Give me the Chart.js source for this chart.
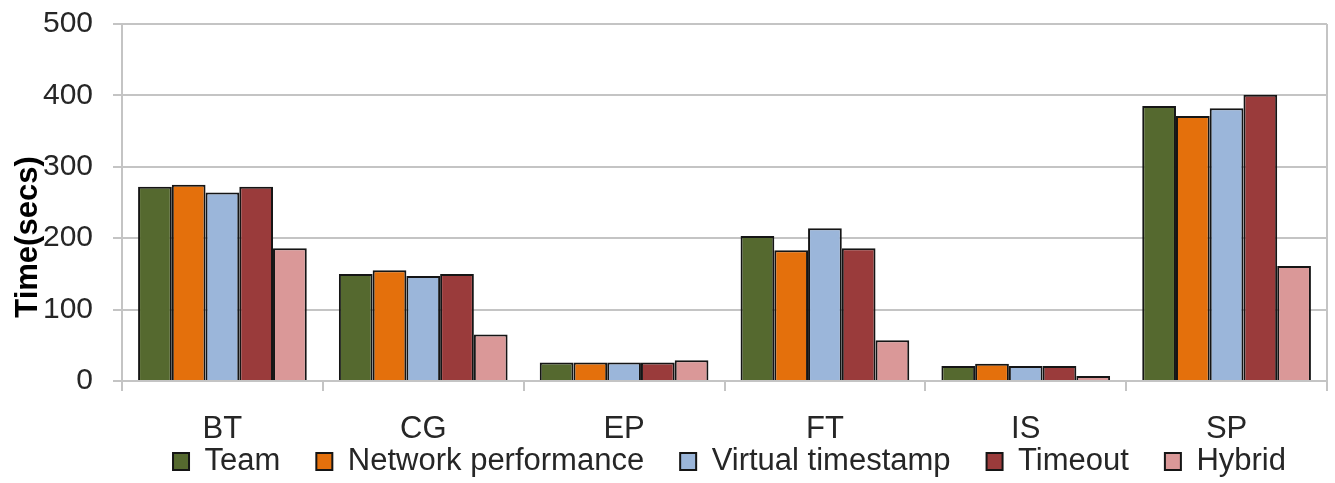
<!DOCTYPE html>
<html>
<head>
<meta charset="utf-8">
<script src="https://cdn.jsdelivr.net/npm/chart.js@4.4.1/dist/chart.umd.min.js"></script>
<style>
  html, body { margin: 0; padding: 0; background: #ffffff; }
  #wrap { width: 1335px; height: 483px; position: relative; }
</style>
</head>
<body>
<div id="wrap"><canvas id="chart"></canvas></div>
<script>
// NAS benchmark runtimes per detection scheme
const benchmarks = ['BT', 'CG', 'EP', 'FT', 'IS', 'SP'];
const team       = [272, 150, 26, 203, 21, 385];
const netPerf    = [275, 155, 26, 183, 24, 371];
const virtualTs  = [264, 147, 26, 214, 21, 382];
const timeout    = [272, 150, 26, 186, 21, 401];
const hybrid     = [186,  65, 29,  57,  7, 161];
const yTicks     = [0, 100, 200, 300, 400, 500];

const seriesNames  = ['Team', 'Network performance', 'Virtual timestamp', 'Timeout', 'Hybrid'];
const seriesValues = [team, netPerf, virtualTs, timeout, hybrid];
const seriesColors = ['#55692f', '#e4700c', '#9bb6da', '#9a3b3b', '#da9898'];

const gridGray = '#c4c4c4';
const textColor = '#262626';
const baseFont = 'Arial, "Liberation Sans", sans-serif';

// Rotated y-axis caption drawn over the tick label column, plus the right frame edge
const frameAndCaption = {
  id: 'frameAndCaption',
  afterDraw(chart) {
    const { ctx, chartArea } = chart;
    ctx.save();
    ctx.strokeStyle = gridGray;
    ctx.lineWidth = 2;
    ctx.beginPath();
    ctx.moveTo(chartArea.right, chartArea.top);
    ctx.lineTo(chartArea.right, chartArea.bottom);
    ctx.stroke();

    ctx.translate(37, 237);
    ctx.rotate(-Math.PI / 2);
    ctx.font = 'bold 31px ' + baseFont;
    ctx.fillStyle = '#000000';
    ctx.textAlign = 'center';
    ctx.textBaseline = 'alphabetic';
    ctx.fillText('Time(secs)', 0, 0);
    ctx.restore();
  }
};

// Legend row sits under the plot, centred on the plot area rather than the canvas
const legendPlacement = {
  id: 'legendPlacement',
  afterLayout(chart) {
    const lg = chart.legend;
    if (!lg) return;
    const dx = 66;
    lg.left += dx;
    lg.right += dx;
    lg.top = 410;
    lg.bottom = chart.height;
    lg.height = lg.bottom - lg.top;
  }
};

new Chart(document.getElementById('chart'), {
  type: 'bar',
  data: {
    labels: benchmarks,
    datasets: seriesNames.map((name, i) => ({
      label: name,
      data: seriesValues[i],
      backgroundColor: seriesColors[i],
      borderColor: '#151515',
      borderWidth: 2,
      categoryPercentage: 0.84,
      barPercentage: 1.0
    }))
  },
  options: {
    responsive: true,
    maintainAspectRatio: false,
    animation: false,
    layout: { padding: { left: 0, right: 8, top: 24, bottom: 0 } },
    plugins: {
      tooltip: { enabled: false },
      legend: {
        position: 'bottom',
        maxHeight: 40,
        labels: {
          boxWidth: 16,
          boxHeight: 17,
          padding: 36,
          color: textColor,
          font: { family: baseFont, size: 31 }
        }
      }
    },
    scales: {
      x: {
        grid: {
          offset: true,
          drawOnChartArea: false,
          drawTicks: true,
          tickLength: 10,
          color: gridGray,
          lineWidth: 2
        },
        border: { color: gridGray, width: 2 },
        ticks: {
          color: textColor,
          padding: 20,
          font: { family: baseFont, size: 31 }
        },
        afterFit(scale) { scale.height = 62; }
      },
      y: {
        min: 0,
        max: 500,
        afterBuildTicks(scale) { scale.ticks = yTicks.map(v => ({ value: v })); },
        grid: {
          color: gridGray,
          lineWidth: 2,
          drawTicks: true,
          tickLength: 9
        },
        border: { color: gridGray, width: 2 },
        ticks: {
          color: textColor,
          padding: 20,
          font: { family: baseFont, size: 30 }
        },
        afterFit(scale) {
          scale.width = 122;
          scale.paddingTop = 0;
          scale.paddingBottom = 0;
        }
      }
    }
  },
  plugins: [frameAndCaption, legendPlacement]
});
</script>
</body>
</html>
